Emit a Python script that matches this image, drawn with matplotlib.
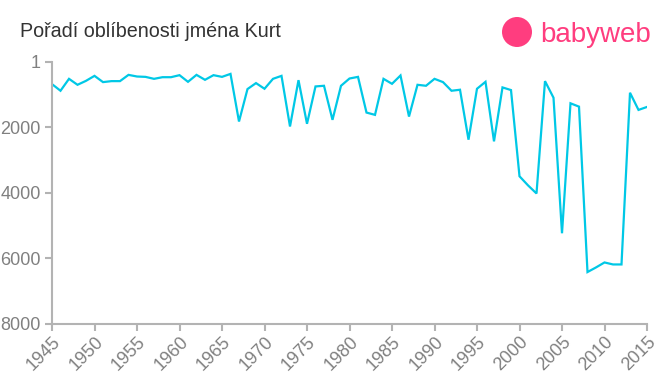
import matplotlib
matplotlib.use("Agg")
import matplotlib.pyplot as plt
from matplotlib.patches import Ellipse

plt.rcParams['font.family'] = ['Liberation Sans', 'DejaVu Sans']

years = list(range(1945, 2016))
ranks = [676, 879, 515, 697, 576, 424, 615, 585, 585, 394,
         444, 455, 515, 465, 465, 403, 606, 394, 545, 403,
         455, 364, 1818, 827, 645, 818, 515, 424, 1970, 555,
         1888, 747, 727, 1767, 727, 505, 455, 1545, 1615, 515,
         667, 412, 1667, 697, 727, 515, 615, 879, 848, 2373,
         818, 606, 2424, 777, 858, 3490, 3767, 4015, 585, 1091,
         5230, 1262, 1364, 6414, 6273, 6121, 6182, 6182, 939, 1464,
         1373]
x_ticks = list(range(1945, 2016, 5))
y_ticks = [1, 2000, 4000, 6000, 8000]
title = "Pořadí oblíbenosti jména Kurt"

fig = plt.figure(figsize=(6.6, 3.75), dpi=100)
ax = fig.add_axes([52/660, 1-324/375, (647-52)/660, (324-62)/375])
ax.plot(years, ranks, color='#00c8e6', lw=1.6, solid_joinstyle='miter')
ax.set_xlim(1945, 2015)
ax.set_ylim(8000, 1)
ax.set_xticks(x_ticks)
ax.set_xticklabels([str(t) for t in x_ticks], rotation=45, ha='right', va='top',
                   rotation_mode='anchor')
ax.set_yticks(y_ticks)
ax.set_yticklabels([str(t) for t in y_ticks])
for s in ['top', 'right']:
    ax.spines[s].set_visible(False)
for s in ['left', 'bottom']:
    ax.spines[s].set_color('#b3b3b3')
    ax.spines[s].set_linewidth(1.5)
ax.tick_params(colors='#b3b3b3', labelcolor='#808080', labelsize=13, length=5, width=1.5)
ax.tick_params(axis='x', pad=2)
ax.tick_params(axis='y', pad=3)

fig.text(20/660, 1-37/375, title, fontsize=14.2, color='#333333', ha='left', va='baseline')

# logo
pink = '#ff3d7f'
circ = Ellipse((517/660, 1-32/375), 30/660, 30/375, transform=fig.transFigure,
               color=pink, ec='none')
fig.patches.append(circ)
fig.text(540/660, 1-42/375, "babyweb", fontsize=20, color=pink, ha='left', va='baseline')

fig.savefig('out.png', dpi=100)
